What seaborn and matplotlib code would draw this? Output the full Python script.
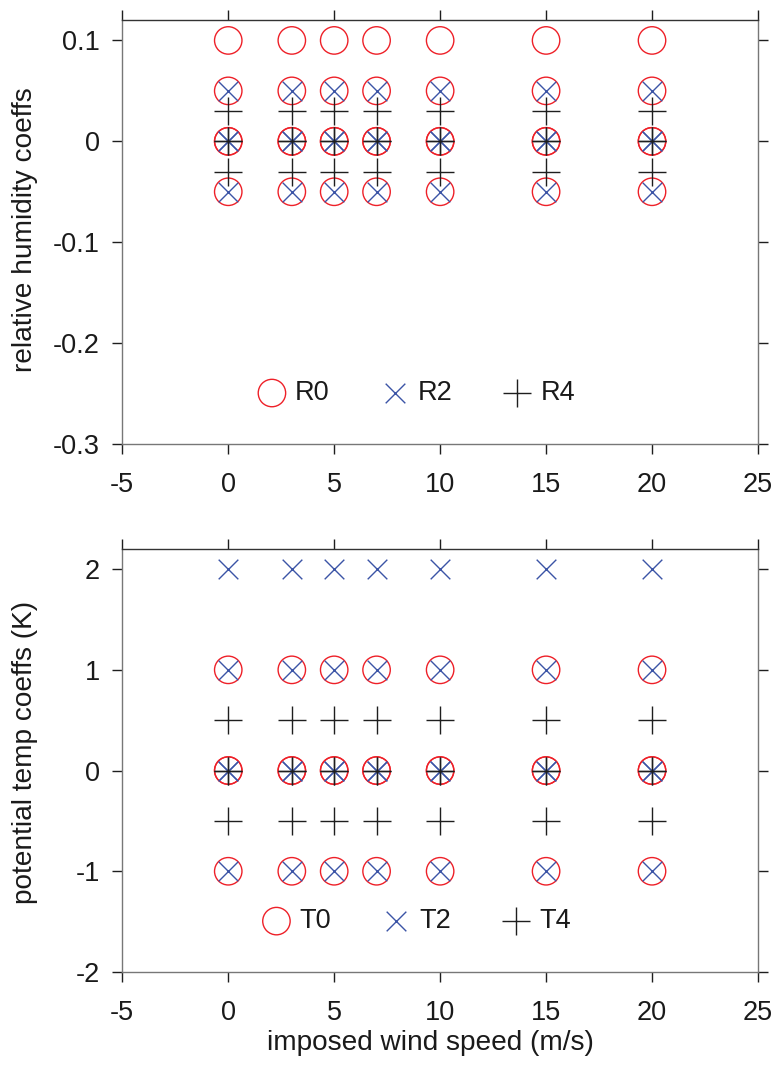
import matplotlib
matplotlib.use("Agg")
import matplotlib.pyplot as plt
import seaborn as sns
import numpy as np
import pandas as pd

# ---- data ----
wind_speeds = [0, 3, 5, 7, 10, 15, 20]
R0_coeffs = [0.1, 0.05, 0.0, 0.0, -0.05]
R2_coeffs = [0.05, 0.0, 0.0, -0.05]
R4_coeffs = [0.03, 0.0, 0.0, -0.03]
T0_coeffs = [1, 0, 0, -1]
T2_coeffs = [2, 1, 0, 0, -1]
T4_coeffs = [0.5, 0, 0, -0.5]

x_ticks = [-5, 0, 5, 10, 15, 20, 25]
rh_ticks = [0.1, 0, -0.1, -0.2, -0.3]
rh_ticklabels = ["0.1", "0", "-0.1", "-0.2", "-0.3"]
pt_ticks = [2, 1, 0, -1, -2]
pt_ticklabels = ["2", "1", "0", "-1", "-2"]

RED = "#ee2028"
BLUE = "#3b54a6"
BLACK = "#1e1e1e"

sns.set_theme(style="white")
plt.rcParams["font.family"] = ["Liberation Sans", "DejaVu Sans"]
plt.rcParams["text.color"] = "#1a1a1a"
plt.rcParams["axes.labelcolor"] = "#1a1a1a"
plt.rcParams["xtick.labelcolor"] = "#1a1a1a"
plt.rcParams["ytick.labelcolor"] = "#1a1a1a"

FS = 19.5
LFS = 20.2


def grid(coeffs):
    xs, ys = [], []
    for w in wind_speeds:
        for c in coeffs:
            xs.append(w)
            ys.append(c)
    return pd.DataFrame({"x": xs, "y": ys})


fig = plt.figure(figsize=(7.79, 10.66), dpi=100)
ax1 = fig.add_axes([0.157, 0.5835, 0.816, 0.3975])
ax2 = fig.add_axes([0.157, 0.0882, 0.816, 0.3968])


def draw(ax, c0, c2, c4, names, ylim, ticks, ticklabels, ylabel, ylab_y):
    d0, d2, d4 = grid(c0), grid(c2), grid(c4)
    sns.scatterplot(data=d0, x="x", y="y", ax=ax, marker="o", s=390,
                    facecolors="none", edgecolor=RED, linewidth=1.0,
                    label=names[0], zorder=3)
    sns.scatterplot(data=d2, x="x", y="y", ax=ax, marker="x", s=200,
                    color=BLUE, linewidth=1.0, label=names[1], zorder=4)
    sns.scatterplot(data=d4, x="x", y="y", ax=ax, marker="+", s=390,
                    color=BLACK, linewidth=1.0, label=names[2], zorder=5)
    ax.set_xlim(-5, 25)
    ax.set_ylim(*ylim)
    ax.set_xticks(x_ticks)
    ax.set_xticklabels([str(t) for t in x_ticks])
    ax.set_yticks(ticks)
    ax.set_yticklabels(ticklabels)
    ax.tick_params(axis="both", which="both", direction="out", length=7,
                   width=1.0, color=BLACK, labelsize=FS,
                   top=True, right=True, bottom=True, left=True,
                   labeltop=False, labelright=False)
    ax.tick_params(axis="x", pad=13)
    ax.tick_params(axis="y", pad=9)
    for side, sp in ax.spines.items():
        sp.set_visible(True)
        sp.set_linewidth(1.0)
        sp.set_color("#777777" if side != "top" else "#333333")
    ax.set_ylabel(ylabel, fontsize=LFS)
    ax.yaxis.set_label_coords(-0.132, ylab_y)
    ax.set_xlabel("")
    ax.legend(loc="center", bbox_to_anchor=(0.461, 0.12), ncol=3,
              frameon=False, fontsize=FS, handlelength=1.2,
              handletextpad=0.25, columnspacing=1.8, borderaxespad=0,
              borderpad=0)


draw(ax1, R0_coeffs, R2_coeffs, R4_coeffs, ["R0", "R2", "R4"], (-0.3, 0.12),
     rh_ticks, rh_ticklabels, "relative humidity coeffs", 0.507)
draw(ax2, T0_coeffs, T2_coeffs, T4_coeffs, ["T0", "T2", "T4"], (-2, 2.2),
     pt_ticks, pt_ticklabels, "potential temp coeffs (K)", 0.519)
ax2.set_xlabel("imposed wind speed (m/s)", fontsize=LFS)
ax2.xaxis.set_label_coords(0.484, -0.137)

fig.savefig("out.png", dpi=100)
